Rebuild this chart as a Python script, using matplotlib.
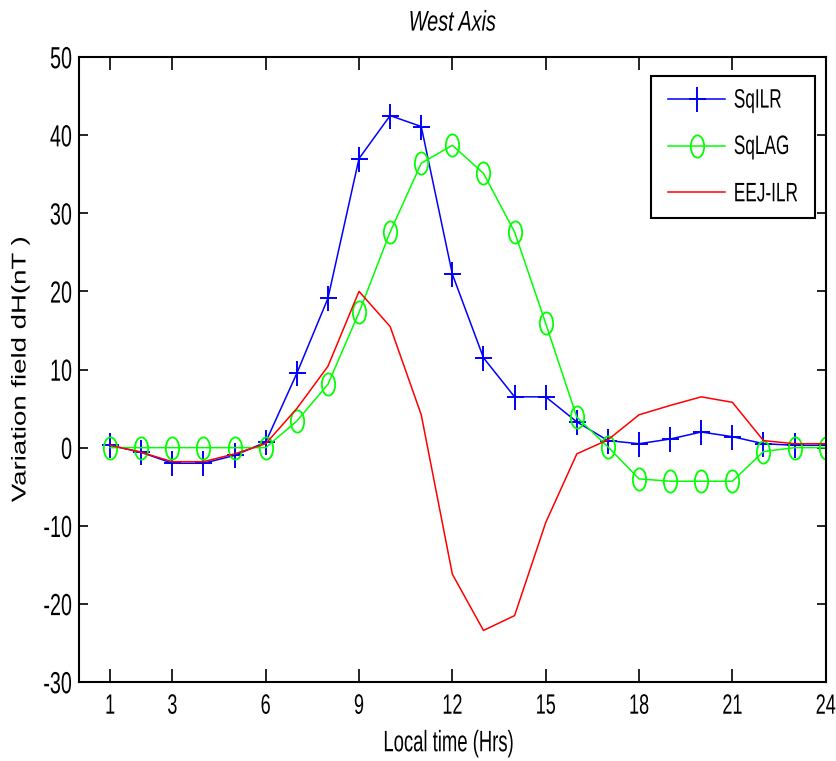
import numpy as np
import matplotlib
matplotlib.use('Agg')
import matplotlib.pyplot as plt
from matplotlib.path import Path
from matplotlib.patheffects import AbstractPathEffect
from matplotlib.transforms import Affine2D

plt.rcParams['font.family'] = ['Liberation Sans', 'DejaVu Sans']
plt.rcParams['axes.unicode_minus'] = False

hours = np.arange(1, 25)
sq_ilr = [0.3, -0.6, -2.0, -2.0, -1.0, 0.7, 9.5, 19.1, 37.0, 42.5, 41.1, 22.2,
          11.5, 6.5, 6.5, 3.3, 0.9, 0.5, 1.1, 2.0, 1.4, 0.5, 0.3, 0.3]
sq_lag = [0.0, 0.0, 0.0, 0.0, 0.0, 0.0, 3.4, 8.1, 17.3, 27.6, 36.4, 38.7,
          35.1, 27.6, 15.9, 3.9, 0.1, -4.0, -4.3, -4.3, -4.3, -0.5, 0.0, 0.0]
eej_ilr = [0.3, -0.6, -1.8, -1.8, -0.8, 0.5, 5.0, 10.4, 20.0, 15.5, 4.2, -16.2,
           -23.4, -21.5, -9.6, -0.8, 1.0, 4.2, 5.4, 6.5, 5.8, 0.9, 0.5, 0.5]

xticks = [1, 3, 6, 9, 12, 15, 18, 21, 24]
yticks = np.arange(-30, 51, 10)


class Stretch(AbstractPathEffect):
    # the source picture is stretched vertically, text included
    def __init__(self, sy=1.55):
        super().__init__()
        self.sy = sy

    def draw_path(self, renderer, gc, tpath, affine, rgbFace=None):
        ext = tpath.get_extents(affine)
        cy = 0.5 * (ext.y0 + ext.y1)
        t = affine + Affine2D().translate(0, -cy).scale(1, self.sy).translate(0, cy)
        renderer.draw_path(gc, tpath, t, rgbFace)


# tall markers, same reason
plus_m = Path([(-0.68, 0), (0.68, 0), (0, -1), (0, 1)],
              [Path.MOVETO, Path.LINETO, Path.MOVETO, Path.LINETO])
circ = Path.unit_circle()
ell_m = Path(circ.vertices * [0.6, 1.0], circ.codes)

fig = plt.figure(figsize=(8.36, 7.61), dpi=100)
ax = fig.add_axes([0.0945, 0.1038, 0.8932, 0.8213])

ax.plot(hours, sq_ilr, color='#0000ff', lw=1.1, marker=plus_m, ms=18, mew=1.4,
        label='SqILR')
ax.plot(hours, sq_lag, color='#00ff00', lw=1.1, marker=ell_m, ms=16, mew=1.3,
        mfc='none', label='SqLAG')
ax.plot(hours, eej_ilr, color='#ff0000', lw=1.1, label='EEJ-ILR')

ax.set_xlim(0, 24)
ax.set_ylim(-30, 50)
ax.set_xticks(xticks)
ax.set_yticks(yticks)
ax.tick_params(axis='x', direction='in', length=9.5, width=1.2, top=True,
               labelsize=13, pad=11)
ax.tick_params(axis='y', direction='in', length=6.5, width=1.2, right=True,
               labelsize=14.2, pad=5)
for s in ax.spines.values():
    s.set_linewidth(1.5)

ax.set_xlabel('Local time (Hrs)', fontsize=13.3, va='center')
ax.xaxis.set_label_coords(0.495, -0.099)
ax.set_ylabel('Variation field dH(nT )', fontsize=14.4, va='center')
ax.yaxis.set_label_coords(-0.079, 0.5)
ax.set_title('West Axis', fontsize=14.3, style='italic', y=1.056, pad=0,
             va='center')

leg = ax.legend(loc='upper right', bbox_to_anchor=(0.9857, 0.9696),
                borderaxespad=0, fontsize=12.4, fancybox=False,
                edgecolor='black', framealpha=1, handlelength=3.3,
                handletextpad=0.5, borderpad=1.0, labelspacing=1.82)
leg.get_frame().set_linewidth(1.5)

st = [Stretch()]
texts = ax.get_xticklabels() + ax.get_yticklabels() + leg.get_texts()
for t in texts:
    t.set_path_effects(st)
ax.xaxis.label.set_path_effects([Stretch(1.6)])
ax.yaxis.label.set_path_effects([Stretch(1.38)])
ax.title.set_path_effects([Stretch(1.43)])

fig.savefig('out.png', dpi=100)
